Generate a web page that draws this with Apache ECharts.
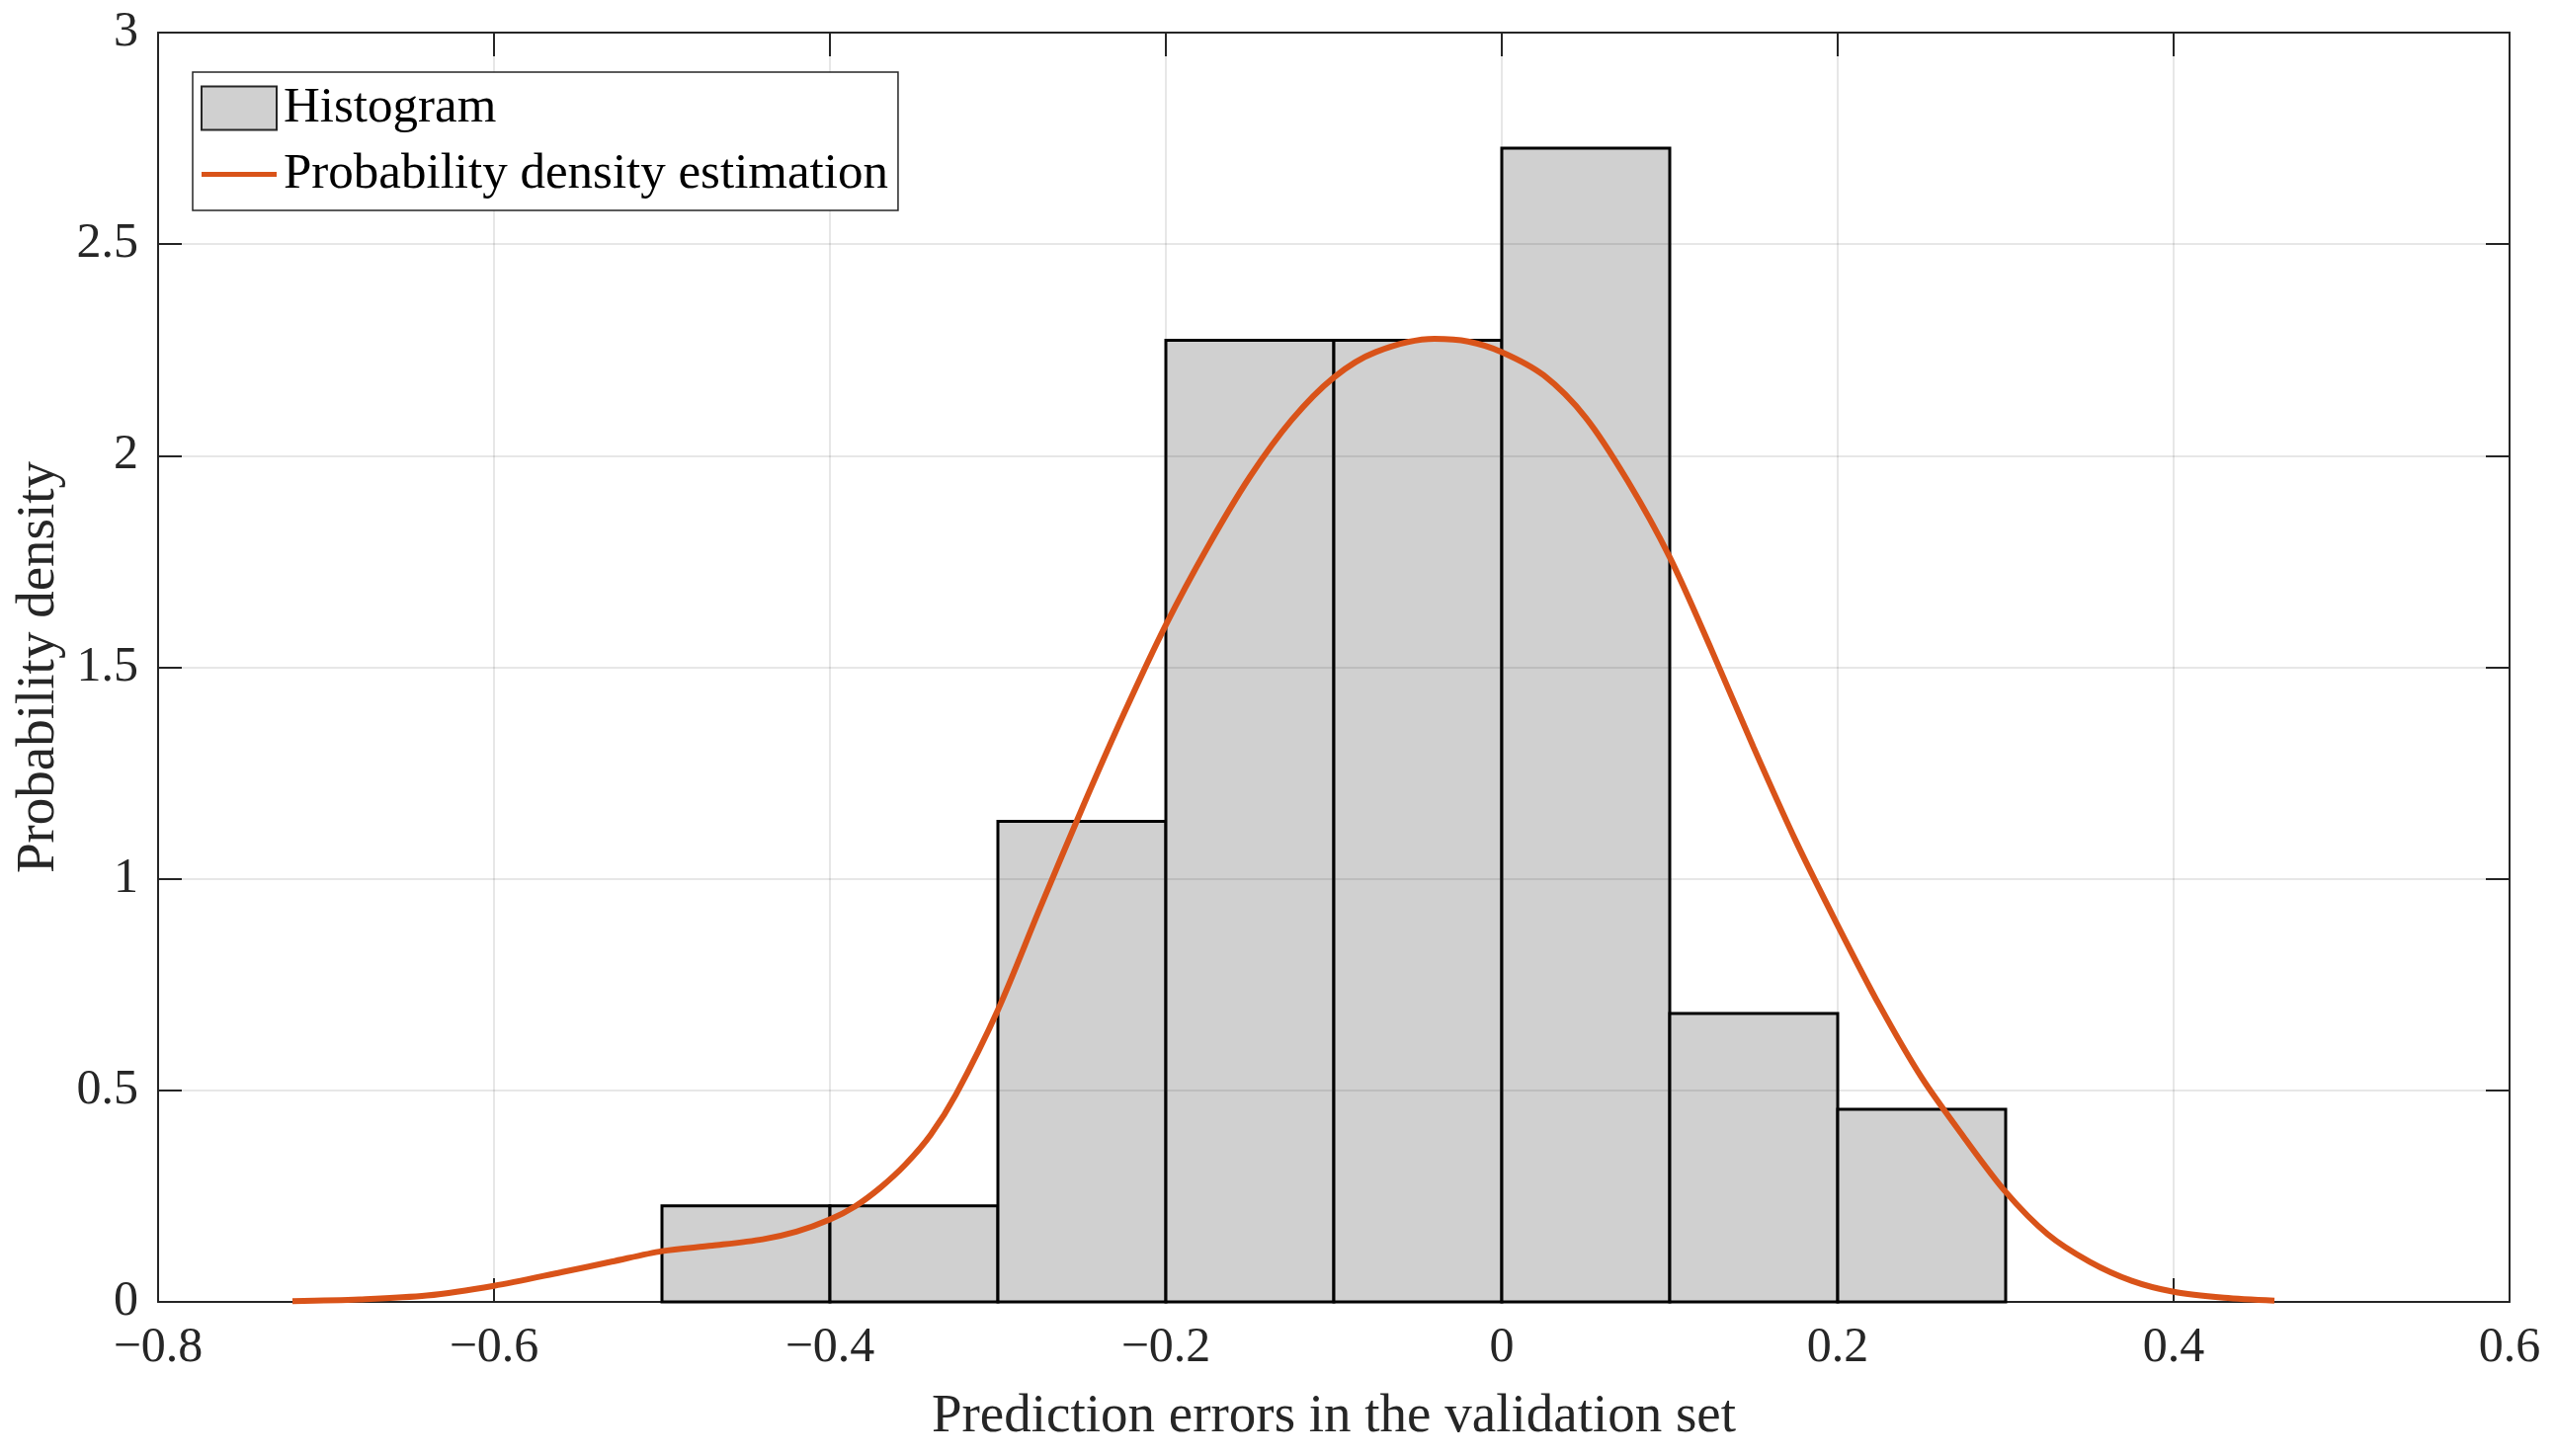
<!DOCTYPE html>
<html>
<head>
<meta charset="utf-8">
<script src="https://cdn.jsdelivr.net/npm/echarts@6/dist/echarts.min.js"></script>
<style>
  html, body { margin: 0; padding: 0; background: #fff; }
  #main { width: 2586px; height: 1474px; }
</style>
</head>
<body>
<div id="main"></div>
<script>
// histogram bins (left edge, right edge) and density heights
var binLeft = [-0.5, -0.4, -0.3, -0.2, -0.1, 0.0, 0.1, 0.2];
var binRight = [-0.4, -0.3, -0.2, -0.1, 0.0, 0.1, 0.2, 0.3];
var binDensity = [0.227, 0.227, 1.136, 2.273, 2.273, 2.727, 0.682, 0.455];

// kernel density curve
var kdeX = [-0.72, -0.68, -0.64, -0.6, -0.56, -0.53, -0.5, -0.47, -0.44, -0.42, -0.4,
  -0.385, -0.37, -0.355, -0.34, -0.325, -0.3, -0.275, -0.25, -0.225, -0.2, -0.175, -0.15,
  -0.125, -0.1, -0.075, -0.04, -0.02, 0, 0.025, 0.05, 0.075, 0.1, 0.125, 0.15, 0.175, 0.2,
  0.225, 0.25, 0.275, 0.3, 0.325, 0.35, 0.375, 0.4, 0.43, 0.46];
var kdeY = [0.002, 0.006, 0.015, 0.038, 0.07, 0.095, 0.12, 0.133, 0.148, 0.166, 0.195,
  0.226, 0.27, 0.325, 0.395, 0.49, 0.69, 0.93, 1.165, 1.39, 1.6, 1.785, 1.95,
  2.085, 2.185, 2.245, 2.276, 2.27, 2.245, 2.19, 2.09, 1.94, 1.76, 1.54, 1.31, 1.09, 0.89,
  0.7, 0.53, 0.39, 0.26, 0.16, 0.095, 0.05, 0.024, 0.01, 0.003];

var xTicks = [-0.8, -0.6, -0.4, -0.2, 0, 0.2, 0.4, 0.6];
var yTicks = [0, 0.5, 1, 1.5, 2, 2.5, 3];

var FONT = 'Liberation Serif';
var INK = '#262626';
var ORANGE = '#D95319';

var histData = binLeft.map(function (l, i) { return [l, binRight[i], binDensity[i]]; });
var kdeData = kdeX.map(function (x, i) { return [x, kdeY[i]]; });

function fmt(v) {
  var r = Math.round(v * 10) / 10;
  return String(r).replace('-', '\u2212');
}

var chart = echarts.init(document.getElementById('main'));

var axisCommon = {
  type: 'value',
  axisLine: { show: true, onZero: false, lineStyle: { color: INK, width: 2 } },
  axisTick: { show: true, inside: true, length: 24, lineStyle: { color: INK, width: 2 } }
};

// thick line icon with transparent room above and below
var lineIcon = 'path://M0,19.5H76V24.5H0Z M0,0H0.01V0.01H0Z M76,44H75.99V43.99H76Z';

var option = {
  backgroundColor: '#ffffff',
  animation: false,
  grid: { left: 160, top: 33, width: 2380, height: 1285 },
  legend: {
    orient: 'vertical',
    left: 195,
    top: 73,
    padding: [11, 10, 11, 8],
    itemWidth: 76,
    itemHeight: 44,
    itemGap: 16,
    backgroundColor: '#ffffff',
    borderColor: INK,
    borderWidth: 1.5,
    textStyle: { fontFamily: FONT, fontSize: 51, color: '#000', padding: [0, 0, 0, 2] },
    data: [
      { name: 'Histogram', icon: 'rect',
        itemStyle: { color: '#d0d0d0', borderColor: INK, borderWidth: 2 } },
      { name: 'Probability density estimation', icon: lineIcon,
        itemStyle: { color: ORANGE, borderWidth: 0 } }
    ]
  },
  xAxis: [
    Object.assign({}, axisCommon, {
      min: -0.8, max: 0.6, interval: 0.2, position: 'bottom',
      splitLine: { show: false },
      axisLabel: { formatter: fmt, fontFamily: FONT, fontSize: 50, color: INK, margin: 22 },
      name: 'Prediction errors in the validation set',
      nameLocation: 'middle',
      nameGap: 89,
      nameTextStyle: { fontFamily: FONT, fontSize: 55, color: INK }
    }),
    Object.assign({}, axisCommon, {
      min: -0.8, max: 0.6, interval: 0.2, position: 'top', z: 3,
      axisLabel: { show: false },
      splitLine: { show: true, lineStyle: { color: 'rgba(38,38,38,0.15)', width: 1.5 } }
    })
  ],
  yAxis: [
    Object.assign({}, axisCommon, {
      min: 0, max: 3, interval: 0.5, position: 'left',
      splitLine: { show: false },
      axisLabel: { formatter: fmt, fontFamily: FONT, fontSize: 50, color: INK, margin: 20 },
      name: 'Probability density',
      nameLocation: 'middle',
      nameGap: 84,
      nameTextStyle: { fontFamily: FONT, fontSize: 55, color: INK }
    }),
    Object.assign({}, axisCommon, {
      min: 0, max: 3, interval: 0.5, position: 'right', z: 3,
      axisLabel: { show: false },
      splitLine: { show: true, lineStyle: { color: 'rgba(38,38,38,0.15)', width: 1.5 } }
    })
  ],
  series: [
    {
      name: 'Histogram',
      type: 'custom',
      z: 2,
      xAxisIndex: 0,
      yAxisIndex: 0,
      data: histData,
      itemStyle: { color: '#d0d0d0', borderColor: '#000', borderWidth: 3 },
      renderItem: function (params, api) {
        var p0 = api.coord([api.value(0), api.value(2)]);
        var p1 = api.coord([api.value(1), 0]);
        return {
          type: 'rect',
          shape: { x: p0[0], y: p0[1], width: p1[0] - p0[0], height: p1[1] - p0[1] },
          style: { fill: '#d0d0d0', stroke: '#000', lineWidth: 3 }
        };
      }
    },
    {
      name: 'Probability density estimation',
      type: 'line',
      z: 4,
      xAxisIndex: 0,
      yAxisIndex: 0,
      data: kdeData,
      smooth: 0.3,
      symbol: 'none',
      color: ORANGE,
      lineStyle: { color: ORANGE, width: 6 }
    }
  ]
};

chart.setOption(option);
</script>
</body>
</html>
